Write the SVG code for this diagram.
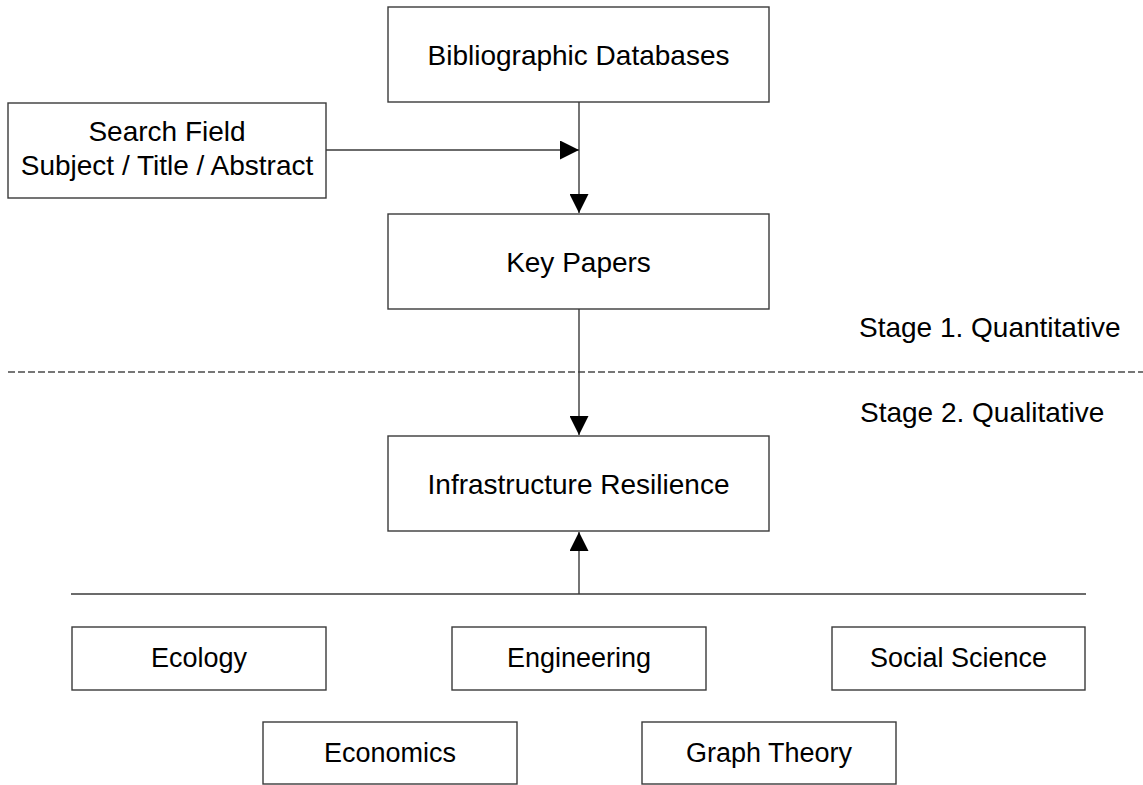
<svg xmlns="http://www.w3.org/2000/svg" width="1143" height="785" viewBox="0 0 1143 785">
  <style>
    .box { fill: #ffffff; stroke: #3a3a3a; stroke-width: 1.4; }
    .label { font-family: "Liberation Sans", Arial, sans-serif; font-size: 28px; fill: #000000; text-anchor: middle; }
    .small { font-size: 27px; }
    .stage { font-family: "Liberation Sans", Arial, sans-serif; font-size: 28px; fill: #000000; }
    .link { fill: none; stroke: #3a3a3a; stroke-width: 1.4; }
    .divider { fill: none; stroke: #767676; stroke-width: 1.8; stroke-dasharray: 7 3; }
  </style>
  <defs>
    <marker id="arrow" viewBox="0 0 19 19" refX="19" refY="9.5" markerWidth="19" markerHeight="19" markerUnits="userSpaceOnUse" orient="auto">
      <path d="M0,0 L19,9.5 L0,19 Z" fill="#000000"/>
    </marker>
  </defs>
  <rect width="1143" height="785" fill="#ffffff"/>

  <!-- stage separator and captions -->
  <line class="divider" x1="8" y1="372" x2="1143" y2="372"/>
  <text class="stage" x="859" y="337">Stage 1. Quantitative</text>
  <text class="stage" x="860" y="422">Stage 2. Qualitative</text>

  <!-- connectors -->
  <g id="connectors">
    <line class="link" x1="579" y1="102" x2="579" y2="213" marker-end="url(#arrow)"/>
    <line class="link" x1="326" y1="150" x2="579" y2="150" marker-end="url(#arrow)"/>
    <line class="link" x1="579" y1="309" x2="579" y2="435" marker-end="url(#arrow)"/>
    <line class="link" x1="579" y1="594" x2="579" y2="532" marker-end="url(#arrow)"/>
    <line class="link" x1="71" y1="594" x2="1086" y2="594" stroke="#1a1a1a"/>
  </g>

  <g id="bibliographic-databases">
    <rect class="box" x="388" y="7" width="381" height="95"/>
    <text class="label" x="578.5" y="64.5">Bibliographic Databases</text>
  </g>

  <g id="search-field">
    <rect class="box" x="8" y="103" width="318" height="95"/>
    <text class="label" x="167" y="141">Search Field</text>
    <text class="label" x="167" y="175">Subject / Title / Abstract</text>
  </g>

  <g id="key-papers">
    <rect class="box" x="388" y="214" width="381" height="95"/>
    <text class="label" x="578.5" y="271.5">Key Papers</text>
  </g>

  <g id="infrastructure-resilience">
    <rect class="box" x="388" y="436" width="381" height="95"/>
    <text class="label" x="578.5" y="493.5">Infrastructure Resilience</text>
  </g>

  <g id="ecology">
    <rect class="box" x="72" y="627" width="254" height="63"/>
    <text class="label small" x="199" y="667">Ecology</text>
  </g>

  <g id="engineering">
    <rect class="box" x="452" y="627" width="254" height="63"/>
    <text class="label small" x="579" y="667">Engineering</text>
  </g>

  <g id="social-science">
    <rect class="box" x="832" y="627" width="253" height="63"/>
    <text class="label small" x="958.5" y="667">Social Science</text>
  </g>

  <g id="economics">
    <rect class="box" x="263" y="722" width="254" height="62"/>
    <text class="label small" x="390" y="762">Economics</text>
  </g>

  <g id="graph-theory">
    <rect class="box" x="642" y="722" width="254" height="62"/>
    <text class="label small" x="769" y="762">Graph Theory</text>
  </g>
</svg>
